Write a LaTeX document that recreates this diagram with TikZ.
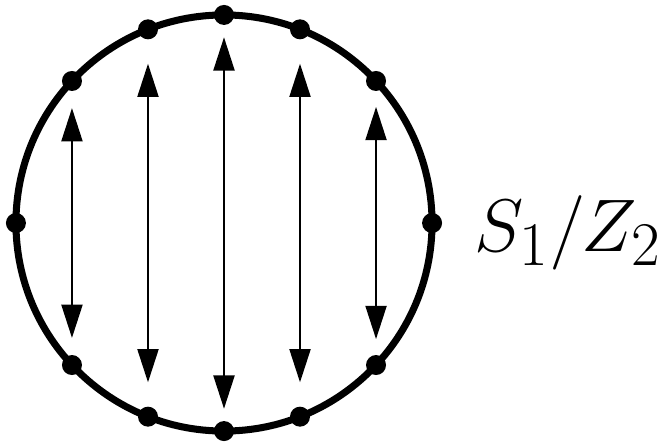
\documentclass[tikz,border=0pt]{standalone}
\usepackage{graphicx}
\usepackage{tikz}
\usetikzlibrary{arrows.meta}

\tikzset{
  pt/.style={circle,fill=black,inner sep=0pt,minimum size=0.5cm},
  pair/.style={{Triangle[length=8.3mm,width=5.3mm]}-{Triangle[length=8.3mm,width=5.3mm]},line width=1pt},
}

\begin{document}
\begin{tikzpicture}[x=0.025cm,y=-0.025cm]
\useasboundingbox (0,0) rectangle (670,442);
\coordinate (c) at (224,223);
\draw[line width=5pt] (c) circle[radius=5.2cm];
% points on the rim, upper and lower half
\foreach \a [count=\i] in {43.05,68.57,90,111.43,136.95} {
  \node[pt] (u\i) at ([shift={(\a:5.2cm)}]c) {};
  \node[pt] (l\i) at ([shift={(-\a:5.2cm)}]c) {};
}
\node[pt] (e) at ([shift={(0:5.2cm)}]c) {};
\node[pt] (w) at ([shift={(180:5.2cm)}]c) {};
% identified pairs
\foreach \i/\g in {1/0.65,2/0.86,3/0.56,4/0.86,5/0.68} {
  \draw[pair,shorten <=\g cm,shorten >=\g cm] (u\i.center) -- (l\i.center);
}
\node[anchor=base west,inner sep=0pt] (lbl) at (474,251) {\scalebox{2.13}{\Huge$S_1/Z_2$}};
\end{tikzpicture}
\end{document}
